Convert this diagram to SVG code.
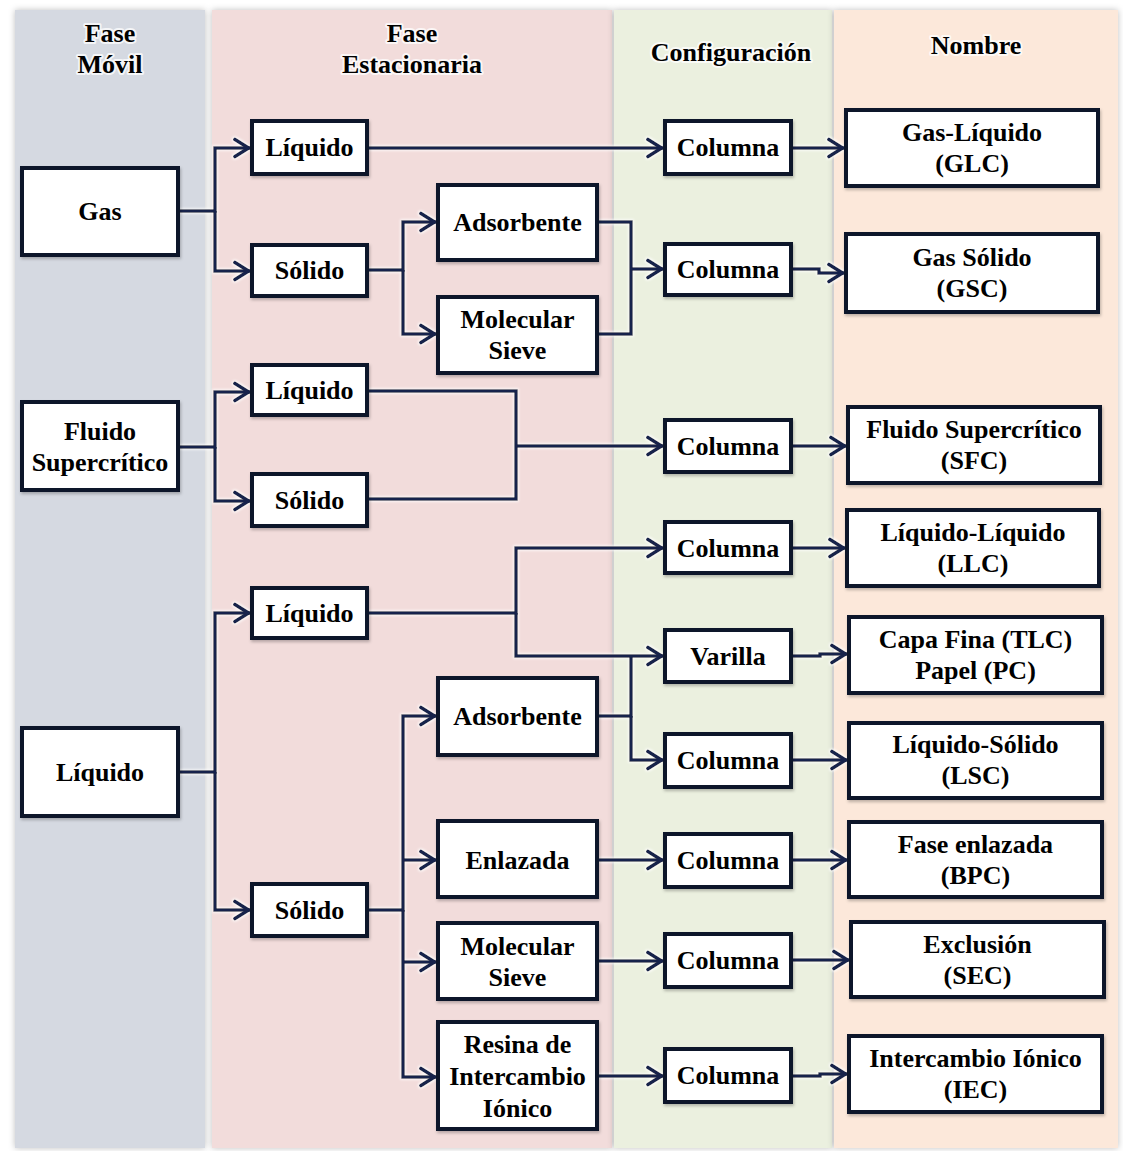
<svg xmlns="http://www.w3.org/2000/svg" width="1123" height="1151" viewBox="0 0 1123 1151">
<defs>
<style>
.lane{filter:url(#laneSh)}
.box{fill:#ffffff;stroke:#0b1229;stroke-width:4;filter:url(#boxSh)}
.t{font-family:"Liberation Serif","Times New Roman",serif;font-weight:bold;font-size:26px;fill:#000;text-anchor:middle}
.h{font-family:"Liberation Serif","Times New Roman",serif;font-weight:bold;font-size:26px;fill:#000;text-anchor:middle;stroke:#ffffff;stroke-width:4;stroke-opacity:0.75;stroke-linejoin:round;paint-order:stroke fill}
.c{fill:none;stroke:#14234b;stroke-width:3.5;stroke-linejoin:miter}
.a{marker-end:url(#arr)}
</style>
<marker id="arr" viewBox="-18 -11 20 22" refX="0" refY="0" markerWidth="20" markerHeight="22" markerUnits="userSpaceOnUse" orient="auto">
<path d="M-15,-8.5 L-1.5,0 L-15,8.5" fill="none" stroke="#14234b" stroke-width="3.8" stroke-linecap="round"/>
</marker>
<filter id="laneSh" x="-5%" y="-2%" width="110%" height="104%">
<feDropShadow dx="0" dy="0" stdDeviation="3" flood-color="#000" flood-opacity="0.25"/>
</filter>
<filter id="boxSh" x="-10%" y="-10%" width="120%" height="130%">
<feDropShadow dx="1" dy="2" stdDeviation="1.5" flood-color="#000" flood-opacity="0.25"/>
</filter>
<filter id="lineGlow" x="-5%" y="-5%" width="110%" height="110%">
<feMorphology in="SourceAlpha" operator="dilate" radius="1" result="d"/>
<feGaussianBlur in="d" stdDeviation="1" result="b"/>
<feFlood flood-color="#ffffff" flood-opacity="0.8"/>
<feComposite in2="b" operator="in" result="g"/>
<feMerge><feMergeNode in="g"/><feMergeNode in="SourceGraphic"/></feMerge>
</filter>
</defs>
<rect x="0" y="0" width="1123" height="1151" fill="#ffffff"/>
<g id="lanes">
<rect class="lane" x="15" y="10" width="190" height="1138" fill="#d5d9e1"/>
<rect class="lane" x="212" y="10" width="400" height="1138" fill="#f2dcdb"/>
<rect class="lane" x="614" y="10" width="218" height="1138" fill="#ebf0df"/>
<rect class="lane" x="834" y="10" width="284" height="1138" fill="#fce8da"/>
</g>
<g id="headers">
<text class="h" x="110" y="42">Fase</text>
<text class="h" x="110" y="73">Móvil</text>
<text class="h" x="412" y="42">Fase</text>
<text class="h" x="412" y="73">Estacionaria</text>
<text class="h" x="731" y="61">Configuración</text>
<text class="h" x="976" y="54">Nombre</text>
</g>
<g id="connectors" filter="url(#lineGlow)">
<path class="c a" d="M178,211 H215 V148 H250"/>
<path class="c a" d="M215,211 V271 H250"/>
<path class="c a" d="M367,148 H663"/>
<path class="c a" d="M791,148 H844"/>
<path class="c a" d="M367,270 H403 V222 H436"/>
<path class="c a" d="M403,270 V334 H436"/>
<path class="c" d="M597,222 H631 V334 H597"/>
<path class="c a" d="M631,269 H663"/>
<path class="c a" d="M791,269 H819 V273 H844"/>
<path class="c a" d="M178,447 H215 V392 H250"/>
<path class="c a" d="M215,447 V501 H250"/>
<path class="c" d="M367,391 H516 V499 H367"/>
<path class="c a" d="M516,446 H663"/>
<path class="c a" d="M791,446 H846"/>
<path class="c a" d="M178,772 H215 V613 H250"/>
<path class="c a" d="M215,772 V910 H250"/>
<path class="c a" d="M367,613 H516 V548 H663"/>
<path class="c a" d="M516,613 V656 H663"/>
<path class="c" d="M597,716 H631 V656"/>
<path class="c a" d="M631,716 V760 H663"/>
<path class="c a" d="M367,910 H403 V716 H436"/>
<path class="c a" d="M403,860 H436"/>
<path class="c a" d="M403,962 H436"/>
<path class="c a" d="M403,910 V1077 H436"/>
<path class="c a" d="M597,860 H663"/>
<path class="c a" d="M597,961 H663"/>
<path class="c a" d="M597,1076 H663"/>
<path class="c a" d="M791,548 H845"/>
<path class="c a" d="M791,656 H820 V654 H847"/>
<path class="c a" d="M791,760 H847"/>
<path class="c a" d="M791,860 H847"/>
<path class="c a" d="M791,960 H849"/>
<path class="c a" d="M791,1076 H820 V1074 H847"/>
</g>
<g id="n-gas"><rect class="box" x="22" y="168" width="156" height="87"/><text class="t" x="100" y="220">Gas</text></g>
<g id="n-fluido"><rect class="box" x="22" y="402" width="156" height="88"/><text class="t" x="100" y="440">Fluido</text><text class="t" x="100" y="471">Supercrítico</text></g>
<g id="n-liquido"><rect class="box" x="22" y="728" width="156" height="88"/><text class="t" x="100" y="781">Líquido</text></g>
<g id="n-liq1"><rect class="box" x="252" y="121" width="115" height="53"/><text class="t" x="309.5" y="156">Líquido</text></g>
<g id="n-sol1"><rect class="box" x="252" y="245" width="115" height="51"/><text class="t" x="309.5" y="279">Sólido</text></g>
<g id="n-ads1"><rect class="box" x="438" y="185" width="159" height="75"/><text class="t" x="517.5" y="231">Adsorbente</text></g>
<g id="n-mol1"><rect class="box" x="438" y="297" width="159" height="76"/><text class="t" x="517.5" y="328">Molecular</text><text class="t" x="517.5" y="359">Sieve</text></g>
<g id="n-liq2"><rect class="box" x="252" y="365" width="115" height="50"/><text class="t" x="309.5" y="399">Líquido</text></g>
<g id="n-sol2"><rect class="box" x="252" y="474" width="115" height="52"/><text class="t" x="309.5" y="509">Sólido</text></g>
<g id="n-liq3"><rect class="box" x="252" y="588" width="115" height="50"/><text class="t" x="309.5" y="622">Líquido</text></g>
<g id="n-sol3"><rect class="box" x="252" y="884" width="115" height="52"/><text class="t" x="309.5" y="919">Sólido</text></g>
<g id="n-ads2"><rect class="box" x="438" y="678" width="159" height="77"/><text class="t" x="517.5" y="725">Adsorbente</text></g>
<g id="n-enl"><rect class="box" x="438" y="821" width="159" height="76"/><text class="t" x="517.5" y="869">Enlazada</text></g>
<g id="n-mol2"><rect class="box" x="438" y="923" width="159" height="76"/><text class="t" x="517.5" y="955">Molecular</text><text class="t" x="517.5" y="986">Sieve</text></g>
<g id="n-res"><rect class="box" x="438" y="1022" width="159" height="107"/><text class="t" x="517.5" y="1053">Resina de</text><text class="t" x="517.5" y="1085">Intercambio</text><text class="t" x="517.5" y="1117">Iónico</text></g>
<g id="n-col1"><rect class="box" x="665" y="121" width="126" height="53"/><text class="t" x="728" y="156">Columna</text></g>
<g id="n-col2"><rect class="box" x="665" y="244" width="126" height="51"/><text class="t" x="728" y="278">Columna</text></g>
<g id="n-col3"><rect class="box" x="665" y="420" width="126" height="52"/><text class="t" x="728" y="455">Columna</text></g>
<g id="n-col4"><rect class="box" x="665" y="522" width="126" height="51"/><text class="t" x="728" y="557">Columna</text></g>
<g id="n-var"><rect class="box" x="665" y="630" width="126" height="52"/><text class="t" x="728" y="665">Varilla</text></g>
<g id="n-col5"><rect class="box" x="665" y="734" width="126" height="53"/><text class="t" x="728" y="769">Columna</text></g>
<g id="n-col6"><rect class="box" x="665" y="834" width="126" height="53"/><text class="t" x="728" y="869">Columna</text></g>
<g id="n-col7"><rect class="box" x="665" y="934" width="126" height="53"/><text class="t" x="728" y="969">Columna</text></g>
<g id="n-col8"><rect class="box" x="665" y="1049" width="126" height="53"/><text class="t" x="728" y="1084">Columna</text></g>
<g id="n-glc"><rect class="box" x="846" y="110" width="252" height="76"/><text class="t" x="972" y="141">Gas-Líquido</text><text class="t" x="972" y="172">(GLC)</text></g>
<g id="n-gsc"><rect class="box" x="846" y="234" width="252" height="78"/><text class="t" x="972" y="266">Gas Sólido</text><text class="t" x="972" y="297">(GSC)</text></g>
<g id="n-sfc"><rect class="box" x="848" y="407" width="252" height="76"/><text class="t" x="974" y="438">Fluido Supercrítico</text><text class="t" x="974" y="469">(SFC)</text></g>
<g id="n-llc"><rect class="box" x="847" y="510" width="252" height="76"/><text class="t" x="973" y="541">Líquido-Líquido</text><text class="t" x="973" y="572">(LLC)</text></g>
<g id="n-tlc"><rect class="box" x="849" y="617" width="253" height="76"/><text class="t" x="975.5" y="648">Capa Fina (TLC)</text><text class="t" x="975.5" y="679">Papel (PC)</text></g>
<g id="n-lsc"><rect class="box" x="849" y="723" width="253" height="75"/><text class="t" x="975.5" y="753">Líquido-Sólido</text><text class="t" x="975.5" y="784">(LSC)</text></g>
<g id="n-bpc"><rect class="box" x="849" y="822" width="253" height="75"/><text class="t" x="975.5" y="853">Fase enlazada</text><text class="t" x="975.5" y="884">(BPC)</text></g>
<g id="n-sec"><rect class="box" x="851" y="922" width="253" height="75"/><text class="t" x="977.5" y="953">Exclusión</text><text class="t" x="977.5" y="984">(SEC)</text></g>
<g id="n-iec"><rect class="box" x="849" y="1036" width="253" height="76"/><text class="t" x="975.5" y="1067">Intercambio Iónico</text><text class="t" x="975.5" y="1098">(IEC)</text></g>
</svg>
